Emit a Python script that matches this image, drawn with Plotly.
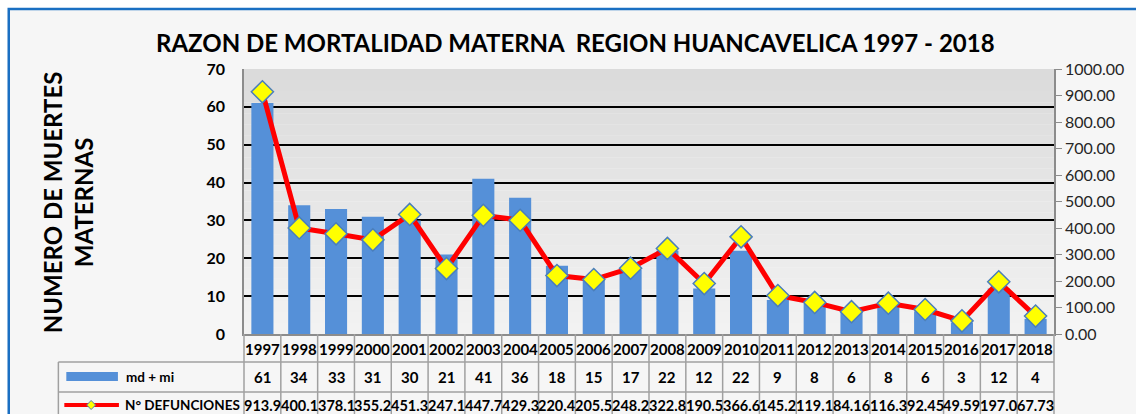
import plotly.graph_objects as go

years = ["1997","1998","1999","2000","2001","2002","2003","2004","2005","2006","2007",
         "2008","2009","2010","2011","2012","2013","2014","2015","2016","2017","2018"]
md_mi = [61,34,33,31,30,21,41,36,18,15,17,22,12,22,9,8,6,8,6,3,12,4]
defunciones = [913.9,400.1,378.1,355.2,451.3,247.1,447.7,429.3,220.4,205.5,248.2,
               322.8,190.5,366.6,145.2,119.1,84.16,116.3,92.45,49.59,197.0,67.73]
def_labels = ["913.9","400.1","378.1","355.2","451.3","247.1","447.7","429.3","220.4","205.5","248.2",
              "322.8","190.5","366.6","145.2","119.1","84.16","116.3","92.45","49.59","197.0","67.73"]

TITLE = "RAZON DE MORTALIDAD MATERNA  REGION HUANCAVELICA 1997 - 2018"
YTITLE = "NUMERO DE MUERTES<br>MATERNAS"
FONT = "Lato"

Wimg, Himg = 1136, 414
L, R, T, B = 244, 1060, 69, 334
W, H = R - L, B - T

def px(x):
    return (x - L) / W

def py(y):
    return (B - y) / H

fig = go.Figure()
fig.add_trace(go.Bar(x=years, y=md_mi, name="md + mi", marker_color="#5590d8",
                     marker_line_width=0, width=0.6, yaxis="y"))
fig.add_trace(go.Scatter(x=years, y=defunciones, name="N° DEFUNCIONES", yaxis="y2",
                         mode="lines+markers",
                         line=dict(color="#ff0000", width=5),
                         marker=dict(symbol="diamond", size=17, color="#ffff00",
                                     line=dict(color="#4a7ebb", width=1.5))))

shapes = []
shapes.append(dict(type="rect", xref="paper", yref="paper", x0=px(8), x1=px(1145),
                   y0=py(430), y1=py(10), fillcolor="#f6f6f6", line=dict(width=0), layer="below"))
n = 24
for i in range(n):
    t = i / (n - 1)
    c = int(0xdb + (0xf2 - 0xdb) * t)
    col = f"rgb({c},{c},{c})"
    shapes.append(dict(type="rect", xref="paper", yref="paper", x0=0, x1=1,
                       y0=1 - (i + 1) / n, y1=1 - i / n, fillcolor=col,
                       line=dict(width=0), layer="below"))
shapes.append(dict(type="rect", xref="paper", yref="paper", x0=px(7), x1=px(1150),
                   y0=py(440), y1=py(9), fillcolor="rgba(0,0,0,0)",
                   line=dict(color="#1a6fc2", width=2.5)))
grid_col = "#a0a0a0"
for k in range(len(years) + 1):
    xx = k / len(years)
    shapes.append(dict(type="line", xref="paper", yref="paper", x0=xx, x1=xx,
                       y0=0, y1=py(440), line=dict(color=grid_col, width=1.5)))
for yy in (362, 392):
    shapes.append(dict(type="line", xref="paper", yref="paper", x0=px(57), x1=1,
                       y0=py(yy), y1=py(yy), line=dict(color=grid_col, width=1.5)))
shapes.append(dict(type="line", xref="paper", yref="paper", x0=px(57), x1=px(57),
                   y0=py(362), y1=py(440), line=dict(color=grid_col, width=1.5)))
shapes.append(dict(type="rect", xref="paper", yref="paper", x0=px(65), x1=px(117),
                   y0=py(381), y1=py(372), fillcolor="#5590d8", line=dict(width=0)))
shapes.append(dict(type="line", xref="paper", yref="paper", x0=px(63), x1=px(118),
                   y0=py(405), y1=py(405), line=dict(color="#ff0000", width=4)))
cx, cy, d = 90, 405, 4.5
path = f"M {px(cx - d)} {py(cy)} L {px(cx)} {py(cy - d)} L {px(cx + d)} {py(cy)} L {px(cx)} {py(cy + d)} Z"
shapes.append(dict(type="path", xref="paper", yref="paper", path=path,
                   fillcolor="#ffff00", line=dict(color="#4a7ebb", width=1)))

ann = []
ann.append(dict(text=f"<b>{TITLE}</b>", xref="paper", yref="paper", x=px(578), y=py(42),
                showarrow=False, font=dict(family=FONT, size=24, color="#000000"),
                xanchor="center", yanchor="middle"))
ann.append(dict(text=f"<b>{YTITLE}</b>", xref="paper", yref="paper", x=px(67), y=py(202),
                showarrow=False, textangle=-90, font=dict(family=FONT, size=24, color="#000000"),
                xanchor="center", yanchor="middle"))
tfont = dict(family=FONT, size=15, color="#000000")
vfont = dict(family=FONT, size=14.5, color="#000000")
lfont = dict(family=FONT, size=13.5, color="#000000")
for i, yr in enumerate(years):
    xc = (i + 0.5) / len(years)
    ann.append(dict(text=f"<b>{yr}</b>", xref="paper", yref="paper", x=xc, y=py(349),
                    showarrow=False, font=tfont, xanchor="center", yanchor="middle"))
    ann.append(dict(text=f"<b>{md_mi[i]}</b>", xref="paper", yref="paper", x=xc, y=py(377),
                    showarrow=False, font=tfont, xanchor="center", yanchor="middle"))
    ann.append(dict(text=f"<b>{def_labels[i]}</b>", xref="paper", yref="paper", x=xc, y=py(405),
                    showarrow=False, font=vfont, xanchor="center", yanchor="middle"))
ann.append(dict(text="<b>md + mi</b>", xref="paper", yref="paper", x=px(123), y=py(377),
                showarrow=False, font=lfont, xanchor="left", yanchor="middle"))
ann.append(dict(text="<b>N° DEFUNCIONES</b>", xref="paper", yref="paper", x=px(122), y=py(405),
                showarrow=False, font=lfont, xanchor="left", yanchor="middle"))

fig.update_layout(
    width=Wimg, height=Himg,
    margin=dict(l=L, r=Wimg - R, t=T, b=Himg - B, pad=0),
    paper_bgcolor="#ffffff", plot_bgcolor="rgba(0,0,0,0)",
    showlegend=False, bargap=0.4,
    shapes=shapes, annotations=ann,
    xaxis=dict(type="category", range=[-0.5, len(years) - 0.5], showticklabels=False,
               showgrid=False, showline=True, linecolor="#8c8c8c", linewidth=1.5,
               ticks="", zeroline=False, fixedrange=True),
    yaxis=dict(range=[0, 70], dtick=10, showgrid=True, gridcolor="#000000", gridwidth=1.8,
               showline=True, linecolor="#8c8c8c", linewidth=1.5, zeroline=False,
               ticks="outside", ticklen=14, tickcolor="rgba(0,0,0,0)",
               tickfont=dict(family=FONT, size=16, color="#000000"),
               tickprefix="<b>", ticksuffix="</b>"),
    yaxis2=dict(range=[0, 1000], dtick=100, overlaying="y", side="right", showgrid=False,
                showline=True, linecolor="#8c8c8c", linewidth=1.5, zeroline=False,
                ticks="outside", ticklen=6, tickcolor="#8c8c8c", tickformat=".2f",
                tickfont=dict(family=FONT, size=16, color="#262626")),
)

fig.write_html("out.html", config={"displayModeBar": False},
               post_script="document.body.style.margin='0px';document.body.style.overflow='hidden';")
